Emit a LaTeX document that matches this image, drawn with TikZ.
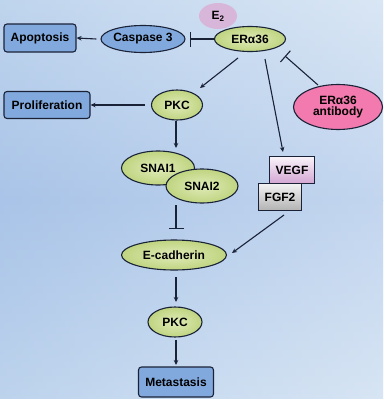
\documentclass[tikz,border=0pt]{standalone}
\usepackage{fontspec}
\setmainfont{Liberation Sans}
\usetikzlibrary{shapes.geometric,arrows.meta}
\definecolor{edge}{HTML}{1A2238}
\definecolor{greenfill}{HTML}{D3E39B}
\definecolor{greendark}{HTML}{BFD480}
\definecolor{bluefill}{HTML}{82A9DD}
\definecolor{pinkfill}{HTML}{F27AAE}
\definecolor{lavfill}{HTML}{D8B6DA}
\definecolor{bgtop}{HTML}{C9DCF0}
\definecolor{bgmid}{HTML}{A9C4E8}
\definecolor{bgbot}{HTML}{C6DAEF}
\tikzset{
  lbl/.style={font=\bfseries\fontsize{12}{12.5}\selectfont, text=black, align=center},
  greenell/.style={ellipse, draw=edge, line width=1.1pt, inner color=greenfill!70!white, outer color=greendark, lbl, inner sep=0pt},
  blueell/.style={ellipse, draw=edge, line width=1.1pt, fill=bluefill, lbl, inner sep=0pt},
  bluebox/.style={rectangle, rounded corners=3pt, draw=edge, line width=1.1pt, fill=bluefill, lbl, inner sep=0pt},
  conn/.style={draw=edge, line width=1.1pt},
  act/.style={conn, -{Stealth[length=5pt,width=4.5pt]}},
  inh/.style={conn, -{Bar[width=15pt,line width=1.1pt]}},
}
\begin{document}
\begin{tikzpicture}[x=1pt,y=-1pt]
\useasboundingbox (0,0) rectangle (383,399);
\shade[top color=bgtop, bottom color=bgmid] (0,0) rectangle (383,200);
\shade[top color=bgmid, bottom color=bgbot] (0,200) rectangle (383,399);
\shade[left color=bgmid, right color=white, opacity=0.3] (0,0) rectangle (383,399);
% nodes
\node[ellipse, fill=lavfill, minimum width=38pt, minimum height=26pt, inner sep=0pt] (e2) at (218,16) {};
\node[lbl] (e2t) at (218,16) {E\textsubscript{2}};
\node[greenell, minimum width=71pt, minimum height=25pt] (er) at (250,39) {ERα36};
\node[blueell, minimum width=73pt, minimum height=27pt] (casp) at (143,39) {Caspase 3};
\node[bluebox, minimum width=72pt, minimum height=28pt] (apop) at (40,38) {Apoptosis};
\node[greenell, minimum width=51pt, minimum height=30pt] (pkc) at (177,105) {PKC};
\node[bluebox, minimum width=86pt, minimum height=27pt] (prol) at (47,105) {Proliferation};
\node[ellipse, draw=edge, line width=1.1pt, fill=pinkfill, lbl, inner sep=0pt, minimum width=89pt, minimum height=45pt] (ab) at (338,107) {ERα36\\[-2pt]antibody};
\node[greenell, minimum width=73pt, minimum height=34pt] (s1) at (158,168) {SNAI1};
\node[greenell, minimum width=72pt, minimum height=34pt] (s2) at (202,186) {SNAI2};
\node[rectangle, draw=edge, line width=1.1pt, top color=white!85!lavfill, bottom color=violet!35!white, lbl, minimum width=45pt, minimum height=27pt, inner sep=0pt] (vegf) at (292,170) {VEGF};
\node[rectangle, draw=edge, line width=1.1pt, top color=gray!10, bottom color=gray!60, lbl, minimum width=43pt, minimum height=27pt, inner sep=0pt] (fgf) at (280,197) {FGF2};
\node[greenell, minimum width=105pt, minimum height=30pt] (ecad) at (174,255) {E-cadherin};
\node[greenell, minimum width=54pt, minimum height=30pt] (pkc2) at (175,322) {PKC};
\node[bluebox, minimum width=75pt, minimum height=30pt] (meta) at (176,382) {Metastasis};
% helper coordinates
\coordinate (snaibot) at (176,205);
\coordinate (snaibar) at (176,229);
% connectors
\draw[inh] (er.west) -- ([xshift=4pt]casp.east);
\draw[act] ([xshift=-4pt]casp.west) -- (apop.east);
\draw[act] (238,58) -- (200,88);
\draw[act] ([xshift=-6pt]pkc.west) -- (prol.east);
\draw[act] (265,59) -- (283,152);
\draw[inh] (318,85) -- (285,56);
\draw[act] (176,121) -- (176,148);
\draw[inh] (snaibot) -- (snaibar);
\draw[act] (284,215) -- (232,253);
\draw[act] (176,277) -- (176,302);
\draw[act] (176,340) -- (176,365);
\end{tikzpicture}
\end{document}
